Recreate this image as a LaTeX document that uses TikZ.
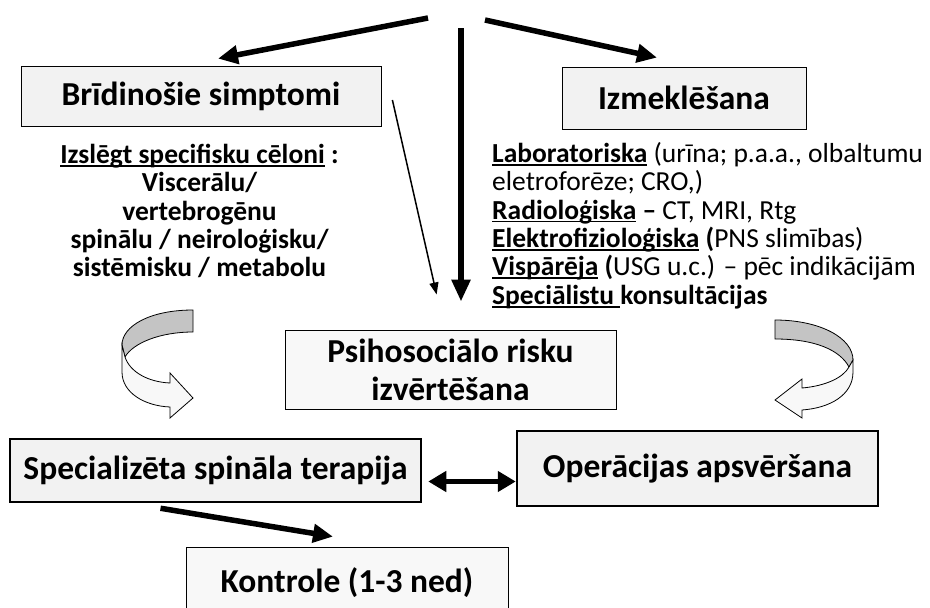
\documentclass[tikz,border=0pt]{standalone}
\usepackage{fontspec}
\setmainfont{Carlito}
\usepackage{tikz}
\usetikzlibrary{arrows.meta,positioning,calc}
\definecolor{boxfill}{HTML}{F2F2F2}
\definecolor{bandgray}{HTML}{C4C4C4}
\definecolor{bandlight}{HTML}{F8F8F8}
\newcommand\ulword[1]{\setbox0=\hbox{#1}\rlap{\rule[-0.12em]{\wd0}{0.065em}}\box0\relax}

\begin{document}
\begin{tikzpicture}[
  x=1pt, y=-1pt,
  hbox/.style={draw=black,line width=0.8pt,fill=boxfill,inner sep=0pt,align=center,font=\fontsize{33.5}{38}\selectfont\bfseries},
  hboxthick/.style={hbox,line width=2.5pt},
  bigarrow/.style={-{Triangle[length=20pt,width=18pt]},line width=5.5pt},
  vertarrow/.style={-{Triangle[length=22pt,width=18pt]},line width=6pt},
  thinarrow/.style={-{Triangle[length=12pt,width=9pt]},line width=1.5pt},
  dblarrow/.style={{Triangle[length=18pt,width=20pt]}-{Triangle[length=18pt,width=20pt]},line width=5pt},
  bandback/.style={draw=black,line width=0.8pt,fill=bandgray},
  bandfront/.style={draw=black,line width=0.8pt,fill=bandlight}
]
\useasboundingbox (0,0) rectangle (930,608);
\clip (0,0) rectangle (930,608);

% boxes
\node[hbox,minimum width=360pt,minimum height=60pt] (bri) at (201,96) {Brīdinošie simptomi};
\node[hbox,minimum width=244pt,minimum height=62pt] (izm) at (684,98) {Izmeklēšana};
\node[hbox,fill=bandlight,minimum width=331pt,minimum height=79pt] (psi) at (450.5,369.5) {Psihosociālo risku\\izvērtēšana};
\node[hboxthick,minimum width=411pt,minimum height=63pt] (spec) at (215.5,470.5) {Specializēta spināla terapija};
\node[hboxthick,minimum width=361pt,minimum height=75pt] (oper) at (697.5,468.5) {Operācijas apsvēršana};
\node[hbox,fill=bandlight,minimum width=322pt,minimum height=72pt] (kon) at (347,583) {Kontrole (1-3 ned)};

% texts under the top boxes
\node[font=\fontsize{27.5}{28.3}\selectfont\bfseries,align=center] (excl) at (199.5,211)
  {\ulword{Izslēgt specifisku cēloni} :\\Viscerālu/\\vertebrogēnu\\spinālu / neiroloģisku/\\sistēmisku / metabolu};
\node[font=\fontsize{27.5}{28.4}\selectfont,align=left,anchor=north west,inner sep=0pt] (tests) at (492,142)
  {\ulword{\textbf{Laboratoriska}} (urīna; p.a.a., olbaltumu\\
   eletroforēze; CRO,)\\
   \ulword{\textbf{Radioloģiska}} \textbf{–} CT, MRI, Rtg\\
   \ulword{\textbf{Elektrofizioloģiska}} \textbf{(}PNS slimības)\\
   \ulword{\textbf{Vispārēja}} \textbf{(}USG u.c.) – pēc indikācijām\\
   \ulword{\textbf{Speciālistu }}\textbf{konsultācijas}};

% curved arrows
\draw[bandback] (193,310) .. controls (150,310) and (122,326) .. (122,345) -- (125,357)
  .. controls (133,343) and (160,332) .. (193,332) -- cycle;
\draw[bandfront] (122,345) -- (122,372) .. controls (122,393) and (145,406) .. (170,407)
  -- (170,418) -- (193,398) -- (170,373) -- (170,383) .. controls (148,382) and (130,372) .. (125,357) -- cycle;
\draw[bandback] (775,320) .. controls (820,320) and (853,338) .. (853,360) -- (849,367)
  .. controls (840,350) and (815,339) .. (775,339) -- cycle;
\draw[bandfront] (853,360) -- (853,372) .. controls (853,395) and (830,408) .. (802,410)
  -- (802,418) -- (775,400) -- (802,379) -- (802,388) .. controls (825,386) and (843,378) .. (849,367) -- cycle;

% arrows
\coordinate (apexL) at (428,18);
\coordinate (apexM) at (461,28);
\coordinate (apexR) at (485,20);
\draw[bigarrow] (apexL) -- ([xshift=17pt,yshift=7pt]bri.north);
\draw[bigarrow] (apexR) -- ([xshift=-27pt,yshift=9pt]izm.north);
\draw[vertarrow,shorten >=28pt] (apexM) -- (apexM |- psi.north);
\draw[thinarrow,shorten >=36pt] ([xshift=11pt,yshift=-4pt]bri.east) -- ([xshift=160pt]psi.north west);
\draw[dblarrow] ([xshift=6pt,yshift=-11pt]spec.east) -- ([yshift=-11pt]spec.east -| oper.west);
\draw[bigarrow] ([xshift=-55pt,yshift=-5pt]spec.south) -- ([xshift=-14pt,yshift=10pt]kon.north);
\end{tikzpicture}
\end{document}
